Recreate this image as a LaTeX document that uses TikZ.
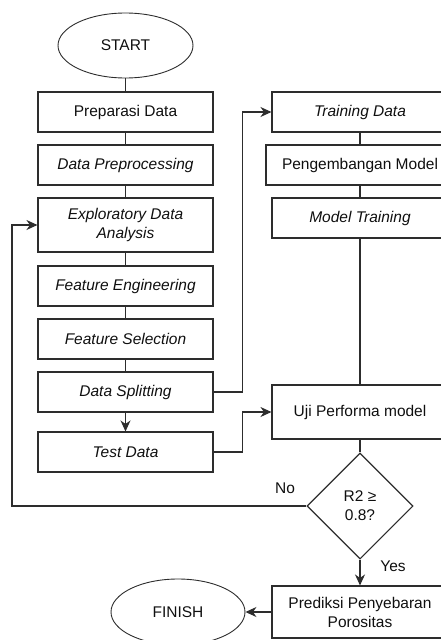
\documentclass[tikz,border=0pt]{standalone}
\usepackage{fontspec}
\setmainfont{Liberation Sans}
\usepackage{tikz}
\usetikzlibrary{arrows.meta,shapes.geometric,positioning}
\usepackage{xcolor}
\definecolor{lineg}{RGB}{45,45,45}
\definecolor{textg}{RGB}{15,15,15}

\begin{document}
\begin{tikzpicture}[x=1pt, y=-1pt,
    every node/.style={font=\fontsize{15.5}{19}\selectfont, text=textg},
    procbox/.style={draw=lineg, line width=1.1pt, rectangle, inner sep=0pt, minimum width=175pt, minimum height=40pt, align=center},
    termbox/.style={draw=lineg, line width=0.9pt, ellipse, inner sep=0pt},
    flowline/.style={draw=lineg, line width=1.1pt},
    flowarrow/.style={flowline, -{Stealth[length=11pt, width=10pt, inset=3.5pt]}}]

\useasboundingbox (0,0) rectangle (441,640);
\clip (0,0) rectangle (441,640);

% Left column
\node[termbox, minimum width=135pt, minimum height=65pt] (start) at (125.5, 45.5) {START};
\node[procbox] (prep) at (125.5, 112) {Preparasi Data};
\node[procbox] (preproc) at (125.5, 165) {\textit{Data Preprocessing}};
\node[procbox, minimum height=54pt] (eda) at (125.5, 225) {\textit{Exploratory Data}\\\textit{Analysis}};
\node[procbox] (feng) at (125.5, 286) {\textit{Feature Engineering}};
\node[procbox] (fsel) at (125.5, 339) {\textit{Feature Selection}};
\node[procbox] (split) at (125.5, 392) {\textit{Data Splitting}};
\node[procbox] (test) at (125.5, 452) {\textit{Test Data}};

% Right column
\node[procbox, minimum width=176pt] (train) at (360, 112) {\textit{Training Data}};
\node[procbox, minimum width=188pt] (dev) at (360, 165) {Pengembangan Model};
\node[procbox, minimum width=176pt] (mtrain) at (360, 218) {\textit{Model Training}};
\node[procbox, minimum width=176pt, minimum height=54pt] (uji) at (360, 412) {Uji Performa model};
\node[draw=lineg, line width=1.1pt, diamond, aspect=1, inner sep=0pt, minimum size=106pt, align=center] (cond) at (360, 506) {R2 ≥\\0.8?};
\node[procbox, minimum width=176pt, minimum height=52pt] (pred) at (360, 612) {Prediksi Penyebaran\\Porositas};
\node[termbox, minimum width=134pt, minimum height=66pt] (finish) at (178, 612) {FINISH};

% Branch labels
\node (nolbl) at (285, 488) {No};
\node (yeslbl) at (393, 566) {Yes};

% Plain links
\foreach \a/\b in {start/prep, prep/preproc, preproc/eda, eda/feng, feng/fsel, fsel/split,
                   train/dev, dev/mtrain, mtrain/uji, uji/cond} {
    \draw[flowline] (\a) -- (\b);
}

% Arrows
\draw[flowarrow] (split) -- (test);
\draw[flowarrow] (split.east) -- ++(29,0) |- (train.west);
\draw[flowarrow] (test.east) -- ++(29,0) |- (uji.west);
\draw[flowarrow] (cond) -- (pred);
\draw[flowarrow] (pred) -- (finish);

% Feedback loop (No)
\coordinate (fbk) at (12, 506);
\draw[flowarrow] (cond.west) -- (fbk) |- (eda.west);

\end{tikzpicture}
\end{document}
